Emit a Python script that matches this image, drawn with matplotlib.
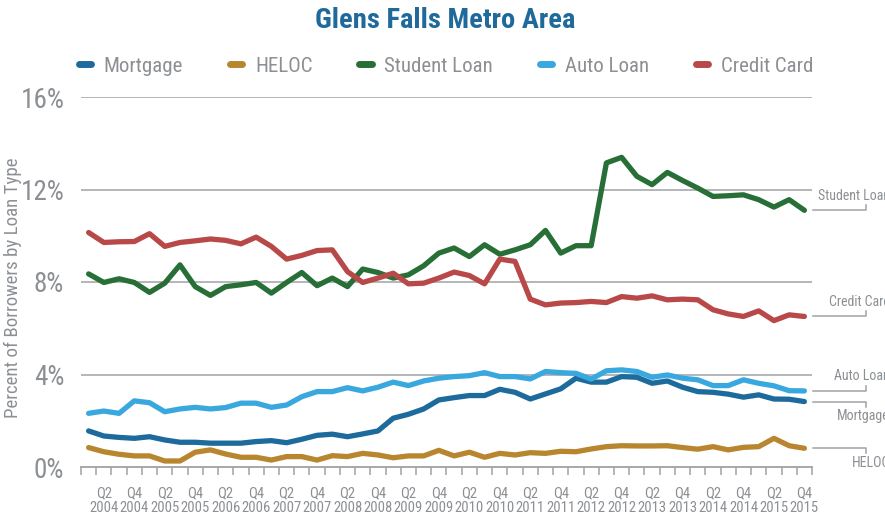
import matplotlib

matplotlib.use("Agg")
import matplotlib.pyplot as plt
from matplotlib import font_manager
from matplotlib.lines import Line2D
from matplotlib.ticker import FixedLocator, NullFormatter

# quarterly series, Q1 2004 .. Q4 2015 (percent of borrowers)
quarters = [f"Q{q}\n{y}" for y in range(2004, 2016) for q in range(1, 5)]

mortgage = [1.56, 1.34, 1.28, 1.24, 1.31, 1.17, 1.07, 1.07, 1.03, 1.03, 1.03, 1.10,
            1.14, 1.05, 1.20, 1.37, 1.42, 1.31, 1.43, 1.56, 2.11, 2.28, 2.51, 2.90,
            3.00, 3.09, 3.09, 3.36, 3.23, 2.94, 3.16, 3.38, 3.84, 3.67, 3.67, 3.91,
            3.88, 3.62, 3.72, 3.45, 3.26, 3.23, 3.15, 3.02, 3.12, 2.94, 2.93, 2.83]
heloc = [0.84, 0.66, 0.55, 0.48, 0.48, 0.26, 0.26, 0.64, 0.74, 0.56, 0.42, 0.42,
         0.30, 0.45, 0.45, 0.30, 0.49, 0.45, 0.59, 0.52, 0.40, 0.48, 0.48, 0.72,
         0.48, 0.64, 0.42, 0.59, 0.52, 0.62, 0.59, 0.68, 0.66, 0.78, 0.88, 0.92,
         0.91, 0.91, 0.92, 0.84, 0.77, 0.88, 0.74, 0.85, 0.88, 1.24, 0.92, 0.81]
student = [8.35, 7.98, 8.14, 7.98, 7.55, 7.95, 8.74, 7.80, 7.42, 7.80, 7.88, 7.98,
           7.52, 7.98, 8.41, 7.84, 8.17, 7.80, 8.56, 8.41, 8.17, 8.31, 8.70, 9.25,
           9.47, 9.10, 9.61, 9.20, 9.39, 9.61, 10.23, 9.25, 9.57, 9.57, 13.15, 13.39,
           12.57, 12.21, 12.74, 12.39, 12.06, 11.70, 11.73, 11.77, 11.56, 11.24, 11.56, 11.10]
auto = [2.32, 2.42, 2.32, 2.86, 2.78, 2.39, 2.51, 2.58, 2.51, 2.57, 2.76, 2.76,
        2.58, 2.68, 3.04, 3.26, 3.26, 3.43, 3.29, 3.45, 3.67, 3.52, 3.72, 3.84,
        3.91, 3.95, 4.08, 3.91, 3.91, 3.81, 4.13, 4.08, 4.05, 3.80, 4.16, 4.20,
        4.13, 3.88, 3.98, 3.84, 3.77, 3.52, 3.52, 3.77, 3.62, 3.51, 3.30, 3.29]
credit = [10.14, 9.71, 9.74, 9.75, 10.09, 9.54, 9.71, 9.78, 9.86, 9.80, 9.65, 9.94,
          9.54, 8.99, 9.15, 9.36, 9.39, 8.45, 7.98, 8.17, 8.38, 7.92, 7.95, 8.17,
          8.43, 8.28, 7.92, 8.99, 8.89, 7.26, 7.01, 7.09, 7.11, 7.16, 7.11, 7.37,
          7.30, 7.40, 7.23, 7.26, 7.23, 6.80, 6.62, 6.51, 6.75, 6.33, 6.58, 6.51]

names = ["Mortgage", "HELOC", "Student Loan", "Auto Loan", "Credit Card"]
colors = ["#1d6a9c", "#b8862e", "#276f36", "#39a8df", "#b94848"]
label_side = [-1, -1, 1, 1, 1]  # end labels below (-1) or above (1) the leader


def pick_font():
    have = {f.name for f in font_manager.fontManager.ttflist}
    for cand in ["Roboto Condensed", "Liberation Sans Narrow", "Open Sans Condensed", "Roboto"]:
        if cand in have:
            return cand
    return "DejaVu Sans"


def main():
    font = pick_font()
    narrow = font != "Roboto"
    plt.rcParams["font.family"] = [font, "DejaVu Sans"]

    gray = "#8c8f93"
    line_gray = "#9fa2a6"

    fig = plt.figure(figsize=(8.85, 5.17), dpi=100)
    ax = fig.add_axes([81 / 885, 1 - 467 / 517, 731 / 885, 370 / 517])

    series = [mortgage, heloc, student, auto, credit]
    x = list(range(len(quarters)))
    for vals, c in zip(series, colors):
        ax.plot(x, vals, color=c, lw=3.8, solid_capstyle="round",
                solid_joinstyle="round", zorder=3)

    ax.set_xlim(-0.5, len(quarters) - 0.5)
    ax.set_ylim(0, 16)

    # horizontal grid
    for yv in [4, 8, 12, 16]:
        ax.axhline(yv, color=line_gray, lw=1.1, zorder=1)

    for s in ["top", "right", "left"]:
        ax.spines[s].set_visible(False)
    ax.spines["bottom"].set_color(line_gray)
    ax.spines["bottom"].set_linewidth(1.3)

    ax.set_yticks([0, 4, 8, 12, 16])
    ax.set_yticklabels(["0%", "4%", "8%", "12%", "16%"])
    ax.tick_params(axis="y", length=0, pad=12, labelsize=19.5 if narrow else 15,
                   labelcolor=gray)

    ax.set_xticks(x[1::2])
    ax.set_xticklabels(quarters[1::2], linespacing=1.05)
    ax.xaxis.set_minor_locator(FixedLocator([i - 0.5 for i in range(len(quarters) + 1)]))
    ax.xaxis.set_minor_formatter(NullFormatter())
    ax.tick_params(axis="x", which="major", length=0, pad=14,
                   labelsize=10.5 if narrow else 8.8, labelcolor=gray)
    ax.tick_params(axis="x", which="minor", length=6, width=1.1, color=line_gray,
                   direction="out")

    ax.set_ylabel("Percent of Borrowers by Loan Type", color=gray,
                  fontsize=13.6 if narrow else 11.5)
    ax.yaxis.set_label_coords(-59 / 731, 0.485)

    # leader lines and labels at the right-hand end
    unit_x = 731 / len(quarters)  # px per quarter
    x0 = len(quarters) - 0.5 + 0.05
    x1 = len(quarters) - 0.5 + 54 / unit_x
    xt = len(quarters) - 0.5 + 78 / unit_x
    tick = 0.22
    for vals, name, side in zip(series, names, label_side):
        yv = vals[-1]
        ax.plot([x0, x1, x1], [yv, yv, yv + side * tick], color=line_gray,
                lw=1.1, clip_on=False, zorder=2)
        ax.annotate(name, xy=(xt, yv), xytext=(0, side * 10.5),
                    textcoords="offset points", ha="right", va="center",
                    color=gray, fontsize=10 if narrow else 8.6,
                    annotation_clip=False)

    fig.text(445 / 885, 1 - 20 / 517, "Glens Falls Metro Area", ha="center",
             va="center", fontsize=20.5 if narrow else 18, fontweight="bold",
             color="#1f6a9b")

    handles = [Line2D([], [], color=c, lw=5, solid_capstyle="round") for c in colors]
    fig.legend(handles, names, loc="center", bbox_to_anchor=(446 / 885, 1 - 66 / 517),
               ncol=5, frameon=False, handlelength=0.6, handletextpad=0.6,
               columnspacing=2.25, fontsize=15 if narrow else 13.5,
               labelcolor=gray)

    fig.savefig("out.png", dpi=100)


if __name__ == "__main__":
    main()
